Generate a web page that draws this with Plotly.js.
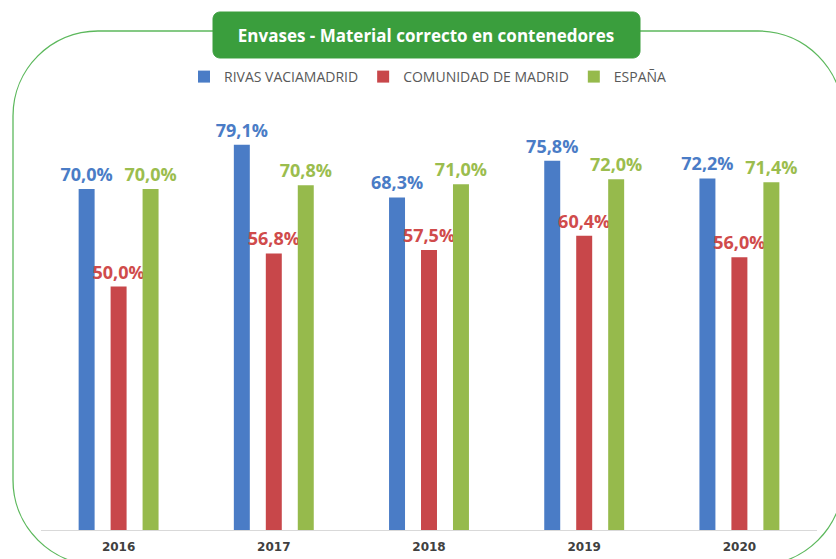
<!DOCTYPE html>
<html>
<head>
<meta charset="utf-8">
<script src="https://cdn.plot.ly/plotly-3.0.1.min.js"></script>
<style>html,body{margin:0;padding:0;background:#fff;}#chart{width:836px;height:559px;}</style>
</head>
<body>
<div id="chart"></div>
<script>
// ---- data ----
const years = ['2016', '2017', '2018', '2019', '2020'];
const seriesNames = ['RIVAS VACIAMADRID', 'COMUNIDAD DE MADRID', 'ESPAÑA'];
const rivas = [70.0, 79.1, 68.3, 75.8, 72.2];
const comunidad = [50.0, 56.8, 57.5, 60.4, 56.0];
const espana = [70.0, 70.8, 71.0, 72.0, 71.4];
const titleText = 'Envases - Material correcto en contenedores';

// ---- styles ----
const barColors = ['#4a7cc6', '#c8474a', '#96ba4c'];
const labelColors = ['#4a7cc6', '#d04b4b', '#9bbd4e'];

const W = 836, H = 559;
const M = {l: 41, r: 19, t: 95, b: 29};
const PW = W - M.l - M.r, PH = H - M.t - M.b;
const px = X => (X - M.l) / PW;
const py = Y => (H - M.b - Y) / PH;

function roundRect(x0, y0, x1, y1, r) {
  const k = 0.5523 * r;
  const P = (X, Y) => px(X).toFixed(5) + ',' + py(Y).toFixed(5);
  return 'M' + P(x0 + r, y0) +
    ' L' + P(x1 - r, y0) +
    ' C' + P(x1 - r + k, y0) + ' ' + P(x1, y0 + r - k) + ' ' + P(x1, y0 + r) +
    ' L' + P(x1, y1 - r) +
    ' C' + P(x1, y1 - r + k) + ' ' + P(x1 - r + k, y1) + ' ' + P(x1 - r, y1) +
    ' L' + P(x0 + r, y1) +
    ' C' + P(x0 + r - k, y1) + ' ' + P(x0, y1 - r + k) + ' ' + P(x0, y1 - r) +
    ' L' + P(x0, y0 + r) +
    ' C' + P(x0, y0 + r - k) + ' ' + P(x0 + r - k, y0) + ' ' + P(x0 + r, y0) + ' Z';
}

const fmt = v => v.toFixed(1).replace('.', ',') + '%';
const allSeries = [rivas, comunidad, espana];

const traces = allSeries.map((vals, i) => ({
  type: 'bar',
  name: seriesNames[i],
  x: years,
  y: vals,
  marker: {color: barColors[i]},
  text: vals.map(fmt),
  textposition: 'outside',
  constraintext: 'none',
  cliponaxis: false,
  textfont: {family: 'Open Sans', size: 18, color: labelColors[i], weight: 'bold'},
  hoverinfo: 'skip'
}));

const layout = {
  width: W, height: H,
  margin: M,
  paper_bgcolor: '#ffffff',
  plot_bgcolor: 'rgba(0,0,0,0)',
  barmode: 'group',
  bargap: 0.382,
  bargroupgap: 0.5,
  showlegend: true,
  title: {
    text: '<b>' + titleText + '</b>',
    font: {family: 'Open Sans', size: 17, color: '#ffffff'},
    xref: 'paper', x: px(426), xanchor: 'center',
    yref: 'container', y: 1 - 36 / H, yanchor: 'middle'
  },
  legend: {
    orientation: 'h',
    x: px(428), xanchor: 'center',
    y: py(77), yanchor: 'middle',
    font: {family: 'Open Sans', size: 14, color: '#595959'},
    itemwidth: 30,
    traceorder: 'normal',
    bgcolor: 'rgba(0,0,0,0)'
  },
  xaxis: {
    type: 'category',
    showline: true, linecolor: '#d9d9d9', linewidth: 1,
    showgrid: false, zeroline: false, ticks: '',
    ticklabelstandoff: 6,
    tickfont: {family: 'DejaVu Sans', size: 12, color: '#404040', weight: 'bold'}
  },
  yaxis: {
    range: [0, PH / 4.87],
    visible: false, showgrid: false, zeroline: false
  },
  shapes: [
    {type: 'path', xref: 'paper', yref: 'paper', layer: 'above',
     path: roundRect(13, 31, 843, 565, 85),
     line: {color: '#5cb85c', width: 1.3}, fillcolor: 'rgba(0,0,0,0)'},
    {type: 'path', xref: 'paper', yref: 'paper', layer: 'above',
     path: roundRect(213, 12, 640, 58, 7),
     line: {color: '#3a9e3d', width: 1}, fillcolor: '#3a9e3d'}
  ]
};

Plotly.newPlot('chart', traces, layout, {displayModeBar: false, staticPlot: true});
</script>
</body>
</html>
